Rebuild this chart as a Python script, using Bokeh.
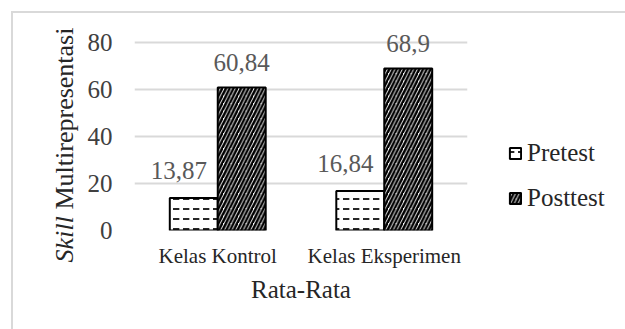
import math
from bokeh.plotting import figure
from bokeh.models import (ColumnDataSource, FactorRange, Range1d, Label, Legend,
                          LegendItem, FixedTicker)
from bokeh.transform import dodge
from bokeh.core.properties import value
from bokeh.embed import file_html
from bokeh.resources import INLINE

categories = ["Kelas Kontrol", "Kelas Eksperimen"]
pretest = [13.87, 16.84]
posttest = [60.84, 68.9]
pretest_labels = ["13,87", "16,84"]
posttest_labels = ["60,84", "68,9"]
y_ticks = [0, 20, 40, 60, 80]

FONT = "Liberation Serif"

src = ColumnDataSource(dict(cat=categories, pre=pretest, post=posttest,
                            pre_lab=pretest_labels, post_lab=posttest_labels))

# frame extends a little above 80 so the value labels are not clipped
p = figure(x_range=FactorRange(*categories, range_padding=0),
           y_range=Range1d(0, 80 * 212 / 188),
           width=612, height=316, frame_width=333, frame_height=212,
           min_border_left=121, min_border_right=158, min_border_top=5,
           min_border_bottom=99,
           output_backend="svg", toolbar_location=None)
p.margin = (11, 0, 0, 11)
p.styles = {"border-top": "2px solid #d9d9d9", "border-left": "2px solid #d9d9d9"}
p.outline_line_color = None
p.background_fill_color = "white"
p.border_fill_color = "white"

bw = 0.288
r_pre = p.vbar(x=dodge("cat", -bw / 2, range=p.x_range), top="pre", width=bw, source=src,
               fill_color="white", line_color="black", line_width=2,
               hatch_pattern="horizontal_dash", hatch_color="black",
               hatch_scale=10, hatch_weight=1.7)
r_post = p.vbar(x=dodge("cat", bw / 2, range=p.x_range), top="post", width=bw, source=src,
                fill_color="white", line_color="black", line_width=2,
                hatch_pattern="right_diagonal_line", hatch_color="black",
                hatch_scale=7.5, hatch_weight=2.5)

p.text(x=dodge("cat", -bw / 2, range=p.x_range), y="pre", text="pre_lab", source=src,
       text_font=value(FONT), text_font_size="25px", text_color="#595959",
       text_align="center", text_baseline="bottom", x_offset=-15, y_offset=-19)
p.text(x=dodge("cat", bw / 2, range=p.x_range), y="post", text="post_lab", source=src,
       text_font=value(FONT), text_font_size="25px", text_color="#595959",
       text_align="center", text_baseline="bottom", y_offset=-17)

# axes
p.yaxis.ticker = FixedTicker(ticks=y_ticks)
p.yaxis.axis_line_color = None
p.yaxis.major_tick_line_color = None
p.yaxis.minor_tick_line_color = None
p.yaxis.major_label_text_font = FONT
p.yaxis.major_label_text_font_size = "25px"
p.yaxis.major_label_text_color = "#404040"
p.yaxis.major_label_standoff = 16

p.xaxis.axis_line_color = None
p.xaxis.major_tick_line_color = None
p.xaxis.major_label_text_font = FONT
p.xaxis.major_label_text_font_size = "21px"
p.xaxis.major_label_text_color = "#262626"
p.xaxis.major_label_standoff = 7
p.xaxis.axis_label = "Rata-Rata"
p.xaxis.axis_label_text_font = FONT
p.xaxis.axis_label_text_font_size = "25px"
p.xaxis.axis_label_text_font_style = "normal"
p.xaxis.axis_label_text_color = "#262626"
p.xaxis.axis_label_standoff = 5

p.xgrid.grid_line_color = None
p.ygrid.grid_line_color = "#d9d9d9"
p.ygrid.grid_line_width = 2
p.ygrid.ticker = FixedTicker(ticks=y_ticks)

# y-axis title with italic "Skill" (canvas coordinates)
p.add_layout(Label(x=49, y=247, x_units="canvas", y_units="canvas", text="Skill",
                   angle=math.pi / 2, text_font=FONT, text_font_size="26px",
                   text_font_style="italic", text_color="#262626",
                   text_align="left", text_baseline="middle"), "left")
p.add_layout(Label(x=49, y=194, x_units="canvas", y_units="canvas", text="Multirepresentasi",
                   angle=math.pi / 2, text_font=FONT, text_font_size="26px",
                   text_color="#262626", text_align="left", text_baseline="middle"), "left")

legend = Legend(items=[LegendItem(label="Pretest", renderers=[r_pre]),
                       LegendItem(label="Posttest", renderers=[r_post])],
                location=(41, 18), orientation="vertical",
                glyph_width=14, glyph_height=14, label_height=20, spacing=17,
                padding=0, margin=0, label_standoff=5,
                label_text_font=FONT, label_text_font_size="25px",
                label_text_color="#262626", border_line_color=None,
                background_fill_alpha=0)
p.add_layout(legend, "right")

open("out.html", "w").write(file_html(p, INLINE))
